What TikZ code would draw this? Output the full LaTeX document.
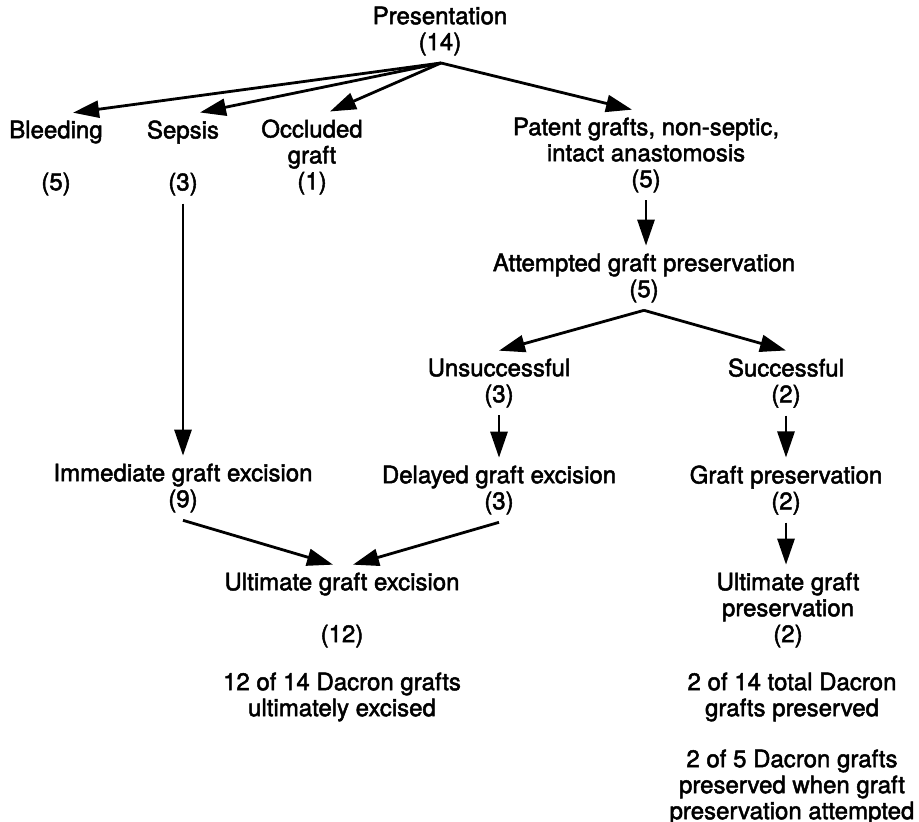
\documentclass[tikz,border=0pt]{standalone}
\usepackage{fontspec}
\setmainfont{TeX Gyre Heros}[FakeBold=2]
\usepackage{tikz}
\usetikzlibrary{arrows.meta, calc}

\begin{document}
\begin{tikzpicture}[x=0.5pt, y=-0.5pt,
  lbl/.style={align=center, inner sep=2pt, outer sep=2pt, font=\fontsize{12}{13}\selectfont},
  arr/.style={line width=1.4pt, -{Triangle[length=13pt, width=8.5pt]}}]
\useasboundingbox (0,0) rectangle (919,822);
\node[lbl] (pres) at (440,31) {Presentation\\(14)};
\coordinate (hub) at (441,63);
\node[lbl] (bleed) at (56,158) {Bleeding\\[13pt](5)};
\node[lbl] (sepsis) at (183,158) {Sepsis\\[13pt](3)};
\node[lbl] (occl) at (312,157) {Occluded\\graft\\(1)};
\node[lbl] (patent) at (646,155) {Patent grafts, non-septic,\\intact anastomosis\\(5)};
\node[lbl] (attempt) at (644,278) {Attempted graft preservation\\(5)};
\node[lbl] (unsucc) at (499,383) {Unsuccessful\\(3)};
\node[lbl] (succ) at (786,383) {Successful\\(2)};
\node[lbl] (immed) at (183,488) {Immediate graft excision\\(9)};
\node[lbl] (delay) at (499,490) {Delayed graft excision\\(3)};
\node[lbl] (gpres) at (786,490) {Graft preservation\\(2)};
\node[lbl] (ultexc) at (342,610) {Ultimate graft excision\\[13pt](12)};
\node[lbl] (ultpres) at (788,610) {Ultimate graft\\preservation\\(2)};
\node[lbl] (note1) at (342,697) {12 of 14 Dacron grafts\\ultimately excised};
\node[lbl] (note2) at (792,697) {2 of 14 total Dacron\\grafts preserved};
\node[lbl] (note3) at (792,787) {2 of 5 Dacron grafts\\preserved when graft\\preservation attempted};

\draw[arr] (hub) -- ($(bleed.north)+(17,0)$);
\draw[arr] (hub) -- ($(sepsis.north)+(17,0)$);
\draw[arr] (hub) -- ($(occl.north)+(18,0)$);
\draw[arr] (hub) -- ($(patent.north)+(-14,0)$);
\draw[arr] (patent.south) -- (patent.south |- attempt.north);
\draw[arr] (attempt.south) -- (unsucc.north);
\draw[arr] (attempt.south) -- (succ.north);
\draw[arr] (sepsis.south) -- (sepsis.south |- immed.north);
\draw[arr] (unsucc.south) -- (delay.north);
\draw[arr] (succ.south) -- (gpres.north);
\draw[arr] (immed.south) -- ($(ultexc.north)+(-9,0)$);
\draw[arr] (delay.south) -- ($(ultexc.north)+(11,0)$);
\draw[arr] (gpres.south) -- (gpres.south |- ultpres.north);
\end{tikzpicture}
\end{document}
